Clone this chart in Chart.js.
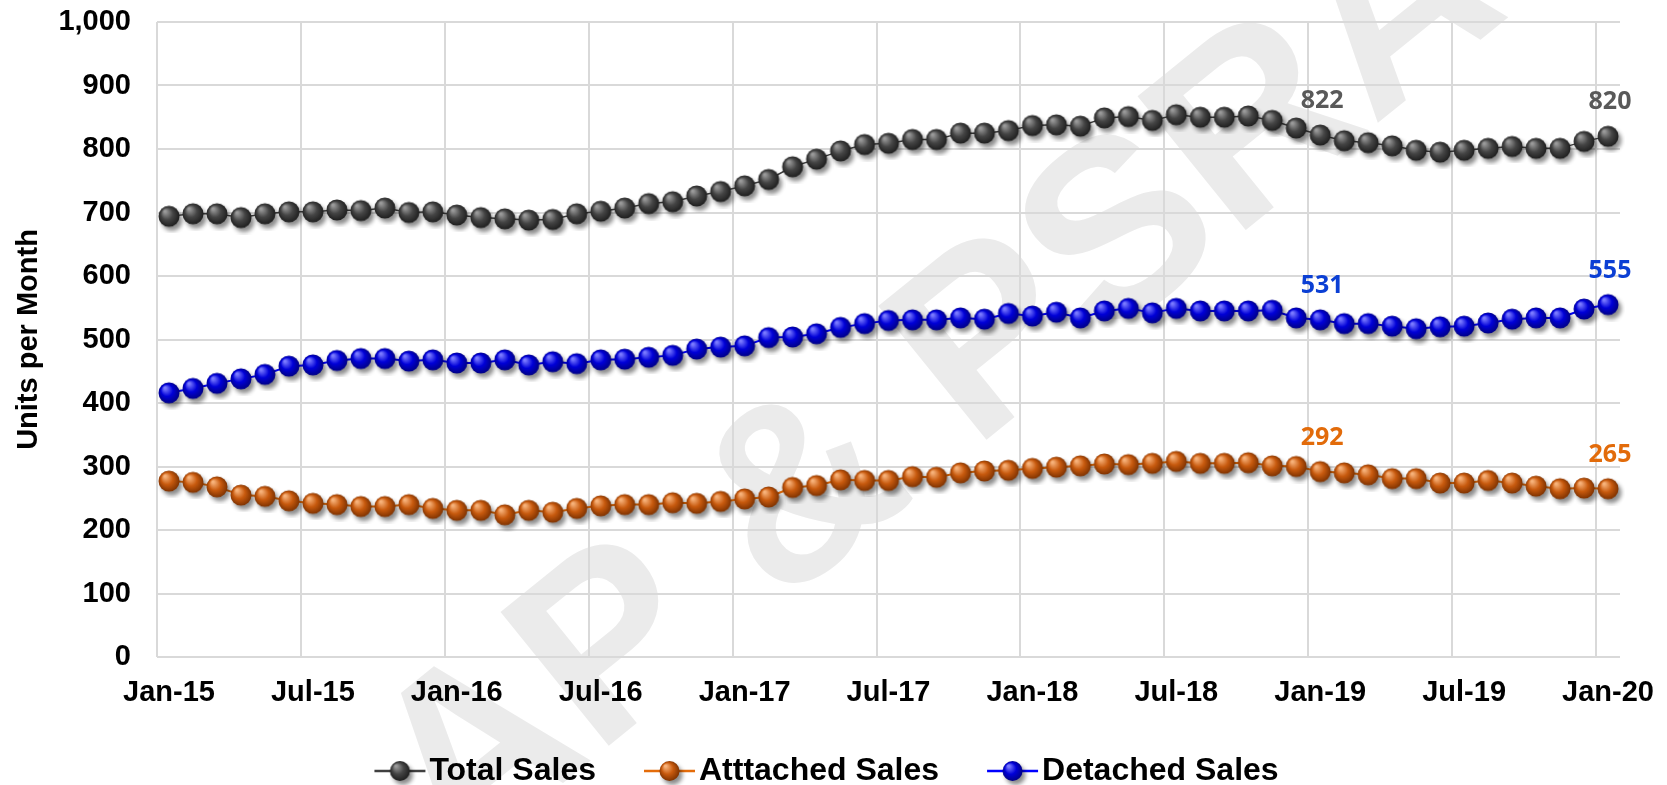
<!DOCTYPE html>
<html>
<head>
<meta charset="utf-8">
<script src="https://cdn.jsdelivr.net/npm/chart.js@4.4.0/dist/chart.umd.min.js"></script>
<style>
  html, body { margin: 0; padding: 0; background: #fff; }
</style>
</head>
<body>
<canvas id="sales-chart" width="1667" height="785"></canvas>
<script>
// Etiquetas del eje X (cada 6 meses)
var tickLabels = ["Jan-15", "Jul-15", "Jan-16", "Jul-16", "Jan-17", "Jul-17",
                  "Jan-18", "Jul-18", "Jan-19", "Jul-19", "Jan-20"];
var tickStep = 6;

// Ventas mensuales, Jan-15 .. Jan-20 (61 meses)
var totalSales = [694, 698, 698, 692, 698, 701, 701, 704, 703, 707, 700, 701, 696, 692, 690, 688,
                  689, 698, 702, 707, 714, 717, 726, 733, 742, 752, 772, 784, 797, 807, 809, 815,
                  815, 825, 825, 829, 837, 838, 836, 849, 851, 845, 854, 850, 850, 852, 845, 833,
                  822, 813, 810, 805, 798, 795, 798, 801, 804, 801, 801, 812, 820];
var attachedSales = [277, 275, 268, 255, 253, 246, 242, 240, 237, 237, 240, 234, 231, 231, 224, 231,
                     228, 234, 238, 240, 240, 243, 242, 245, 249, 252, 267, 270, 279, 278, 278, 284,
                     283, 290, 293, 294, 297, 299, 301, 304, 303, 305, 308, 305, 305, 306, 301, 300,
                     292, 290, 287, 281, 281, 274, 274, 278, 274, 269, 265, 266, 265];
var detachedSales = [416, 423, 431, 438, 445, 458, 460, 467, 470, 470, 466, 468, 463, 463, 468, 460,
                     465, 462, 468, 469, 472, 475, 485, 488, 490, 503, 504, 509, 519, 525, 530, 531,
                     531, 534, 532, 541, 537, 543, 534, 545, 549, 542, 549, 545, 545, 545, 546, 534,
                     531, 525, 525, 521, 517, 520, 521, 526, 532, 534, 534, 548, 555];

// Meses con etiqueta de valor (Jan-19 y Jan-20)
var labelledMonths = [48, 60];

var seriesNames = ["Total Sales", "Atttached Sales", "Detached Sales"];
var lineColors = ["#404040", "#E46C0A", "#0000FF"];
var labelColors = ["#595959", "#E26B0A", "#0B3FD4"];

Chart.defaults.font.family = "'Liberation Sans', Arial, sans-serif";

// Esfera con sombra para los marcadores
function makeBall(light, mid, dark) {
    var c = document.createElement("canvas");
    c.width = 34;
    c.height = 34;
    drawBall(c.getContext("2d"), 17, 17, 10.5, light, mid, dark);
    return c;
}

function drawBall(g, cx, cy, r, light, mid, dark) {
    g.save();
    g.shadowColor = "rgba(0,0,0,0.45)";
    g.shadowBlur = 4;
    g.shadowOffsetX = 3;
    g.shadowOffsetY = 4;
    var grad = g.createRadialGradient(cx - 4, cy - 5, 1, cx, cy, r + 0.5);
    grad.addColorStop(0, light);
    grad.addColorStop(0.5, mid);
    grad.addColorStop(1, dark);
    g.fillStyle = grad;
    g.beginPath();
    g.arc(cx, cy, r, 0, Math.PI * 2);
    g.fill();
    g.restore();
}

// Marcador de la leyenda: linea + esfera, pegado al texto
function makeLegendBall(light, mid, dark, lineColor) {
    var c = document.createElement("canvas");
    c.width = 120;
    c.height = 34;
    var g = c.getContext("2d");
    g.strokeStyle = lineColor;
    g.lineWidth = 2.5;
    g.beginPath();
    g.moveTo(57, 17);
    g.lineTo(108, 17);
    g.stroke();
    drawBall(g, 82.5, 17, 10, light, mid, dark);
    return c;
}

var ballColors = [
    ["#9a9a9a", "#454545", "#1c1c1c"],
    ["#f7b27a", "#c85a0e", "#7a3000"],
    ["#7a7aff", "#0000d8", "#000080"]
];
var balls = ballColors.map(function (b) { return makeBall(b[0], b[1], b[2]); });
var legendBalls = ballColors.map(function (b, i) { return makeLegendBall(b[0], b[1], b[2], lineColors[i]); });

function toPoints(values) {
    return values.map(function (v, i) { return { x: i + 0.5, y: v }; });
}

// Marca de agua
var watermark = {
    id: "watermark",
    beforeDraw: function (chart) {
        var ctx = chart.ctx;
        ctx.save();
        ctx.translate(941, 388);
        ctx.rotate(-39 * Math.PI / 180);
        ctx.font = "bold 250px 'Liberation Sans'";
        ctx.fillStyle = "#ebebeb";
        ctx.textAlign = "center";
        ctx.textBaseline = "middle";
        ctx.fillText("AP & PSRA", 0, 0);
        ctx.restore();
    }
};

// Etiquetas de valor sobre los puntos
var valueLabels = {
    id: "valueLabels",
    afterDatasetsDraw: function (chart) {
        var ctx = chart.ctx;
        ctx.save();
        ctx.font = "bold 25px 'Open Sans'";
        ctx.textAlign = "center";
        ctx.textBaseline = "middle";
        chart.data.datasets.forEach(function (ds, d) {
            var meta = chart.getDatasetMeta(d);
            labelledMonths.forEach(function (i) {
                var pt = meta.data[i];
                ctx.fillStyle = labelColors[d];
                ctx.fillText(String(ds.data[i].y), pt.x + 2, pt.y - 34);
            });
        });
        ctx.restore();
    }
};

var seriesValues = [totalSales, attachedSales, detachedSales];

var ctx = document.getElementById("sales-chart").getContext("2d");
var salesChart = new Chart(ctx, {
    type: "line",
    data: {
        datasets: seriesValues.map(function (vals, i) {
            return {
                label: seriesNames[i],
                data: toPoints(vals),
                borderColor: lineColors[i],
                borderWidth: i === 0 ? 1.5 : 2,
                pointStyle: balls[i],
                pointRadius: 10,
                tension: 0,
                clip: false
            };
        })
    },
    options: {
        responsive: false,
        animation: false,
        layout: { padding: { top: 22, right: 47, bottom: -12, left: 0 } },
        plugins: {
            tooltip: { enabled: false },
            legend: {
                position: "bottom",
                labels: {
                    usePointStyle: true,
                    pointStyleWidth: 72,
                    padding: 15,
                    color: "#000",
                    font: { size: 32, weight: "bold" },
                    generateLabels: function (chart) {
                        return chart.data.datasets.map(function (ds, i) {
                            return {
                                text: ds.label,
                                pointStyle: legendBalls[i],
                                fillStyle: lineColors[i],
                                strokeStyle: lineColors[i],
                                lineWidth: 0,
                                hidden: false,
                                datasetIndex: i,
                                fontColor: "#000"
                            };
                        });
                    }
                }
            }
        },
        scales: {
            x: {
                type: "linear",
                min: 0,
                max: 61,
                afterBuildTicks: function (scale) {
                    scale.ticks = tickLabels.map(function (t, i) { return { value: i * tickStep }; });
                },
                afterFit: function (scale) { scale.height = 83; },
                grid: { color: "#d9d9d9", lineWidth: 2, drawTicks: false },
                border: { display: false },
                ticks: {
                    padding: 19,
                    labelOffset: 12,
                    color: "#000",
                    maxRotation: 0,
                    autoSkip: false,
                    font: { size: 29, weight: "bold" },
                    callback: function (value) { return tickLabels[value / tickStep]; }
                }
            },
            y: {
                min: 0,
                max: 1000,
                afterFit: function (scale) {
                    scale.width = 157;
                    scale.paddingTop = 0;
                    scale.paddingBottom = 0;
                },
                grid: { color: "#d9d9d9", lineWidth: 2, drawTicks: false },
                border: { display: false },
                ticks: {
                    stepSize: 100,
                    padding: 26,
                    color: "#000",
                    font: { size: 29, weight: "bold" },
                    callback: function (value) { return value.toLocaleString("en-US"); }
                },
                title: {
                    display: true,
                    text: "Units per Month",
                    color: "#000",
                    font: { size: 29, weight: "bold" },
                    padding: { top: 12, bottom: 0 }
                }
            }
        }
    },
    plugins: [watermark, valueLabels]
});
</script>
</body>
</html>
